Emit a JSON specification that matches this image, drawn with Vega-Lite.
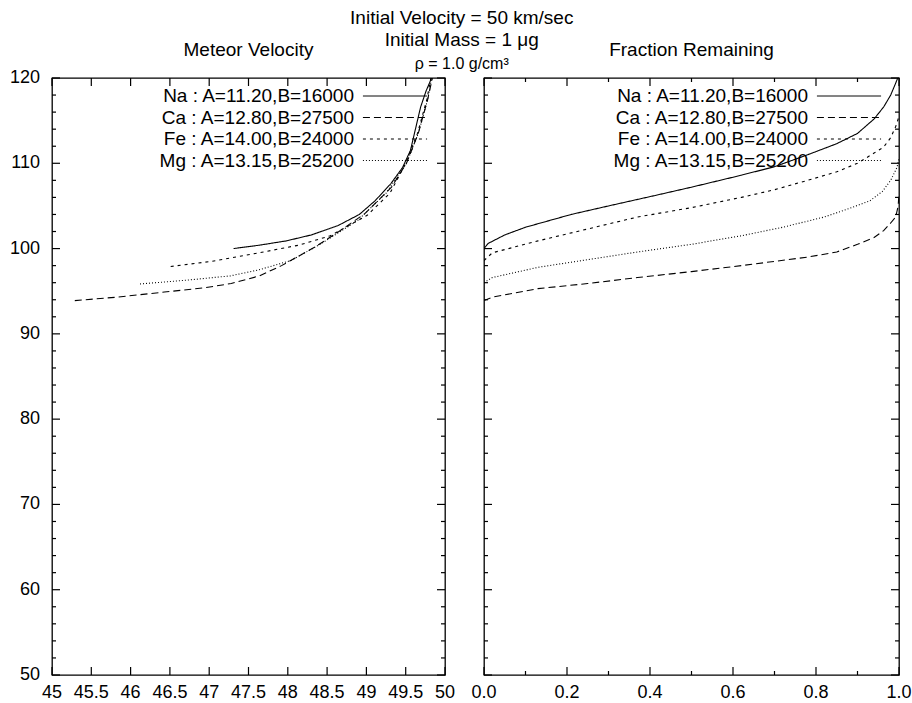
{
  "$schema": "https://vega.github.io/schema/vega-lite/v6.json",
  "background": "white",
  "padding": {"left": 9, "top": 9, "right": 5, "bottom": 5},
  "title": {
    "text": ["Initial Velocity = 50 km/sec", "Initial Mass = 1 μg"],
    "subtitle": "ρ = 1.0 g/cm³",
    "anchor": "middle",
    "offset": -32,
    "dx": 1,
    "fontSize": 19,
    "subtitleFontSize": 16,
    "subtitlePadding": 6
  },
  "bounds": "flush",
  "spacing": 39,
  "datasets": {
    "yt": [
      {"v": 50, "k": "major"}, {"v": 52, "k": "minor"}, {"v": 54, "k": "minor"}, {"v": 56, "k": "minor"}, {"v": 58, "k": "minor"},
      {"v": 60, "k": "major"}, {"v": 62, "k": "minor"}, {"v": 64, "k": "minor"}, {"v": 66, "k": "minor"}, {"v": 68, "k": "minor"},
      {"v": 70, "k": "major"}, {"v": 72, "k": "minor"}, {"v": 74, "k": "minor"}, {"v": 76, "k": "minor"}, {"v": 78, "k": "minor"},
      {"v": 80, "k": "major"}, {"v": 82, "k": "minor"}, {"v": 84, "k": "minor"}, {"v": 86, "k": "minor"}, {"v": 88, "k": "minor"},
      {"v": 90, "k": "major"}, {"v": 92, "k": "minor"}, {"v": 94, "k": "minor"}, {"v": 96, "k": "minor"}, {"v": 98, "k": "minor"},
      {"v": 100, "k": "major"}, {"v": 102, "k": "minor"}, {"v": 104, "k": "minor"}, {"v": 106, "k": "minor"}, {"v": 108, "k": "minor"},
      {"v": 110, "k": "major"}, {"v": 112, "k": "minor"}, {"v": 114, "k": "minor"}, {"v": 116, "k": "minor"}, {"v": 118, "k": "minor"},
      {"v": 120, "k": "major"}
    ],
    "yl": [
      {"v": 50, "lab": "50"}, {"v": 60, "lab": "60"}, {"v": 70, "lab": "70"}, {"v": 80, "lab": "80"},
      {"v": 90, "lab": "90"}, {"v": 100, "lab": "100"}, {"v": 110, "lab": "110"}, {"v": 120, "lab": "120"}
    ],
    "vx": [
      {"v": 45, "k": "major", "lab": "45"}, {"v": 45.5, "k": "major", "lab": "45.5"}, {"v": 46, "k": "major", "lab": "46"},
      {"v": 46.5, "k": "major", "lab": "46.5"}, {"v": 47, "k": "major", "lab": "47"}, {"v": 47.5, "k": "major", "lab": "47.5"},
      {"v": 48, "k": "major", "lab": "48"}, {"v": 48.5, "k": "major", "lab": "48.5"}, {"v": 49, "k": "major", "lab": "49"},
      {"v": 49.5, "k": "major", "lab": "49.5"}, {"v": 50, "k": "major", "lab": "50"}
    ],
    "fx": [
      {"v": 0, "k": "major"}, {"v": 0.1, "k": "minor"}, {"v": 0.2, "k": "major"}, {"v": 0.3, "k": "minor"}, {"v": 0.4, "k": "major"},
      {"v": 0.5, "k": "minor"}, {"v": 0.6, "k": "major"}, {"v": 0.7, "k": "minor"}, {"v": 0.8, "k": "major"}, {"v": 0.9, "k": "minor"},
      {"v": 1.0, "k": "major"}
    ],
    "fxl": [
      {"v": 0, "lab": "0.0"}, {"v": 0.2, "lab": "0.2"}, {"v": 0.4, "lab": "0.4"},
      {"v": 0.6, "lab": "0.6"}, {"v": 0.8, "lab": "0.8"}, {"v": 1.0, "lab": "1.0"}
    ],
    "vel": [
      {"el": "Na : A=11.20,B=16000", "x": 47.31, "y": 100.0},
      {"el": "Na : A=11.20,B=16000", "x": 47.64, "y": 100.4},
      {"el": "Na : A=11.20,B=16000", "x": 47.98, "y": 100.9},
      {"el": "Na : A=11.20,B=16000", "x": 48.3, "y": 101.6},
      {"el": "Na : A=11.20,B=16000", "x": 48.64, "y": 102.7},
      {"el": "Na : A=11.20,B=16000", "x": 48.91, "y": 104.0},
      {"el": "Na : A=11.20,B=16000", "x": 49.11, "y": 105.6},
      {"el": "Na : A=11.20,B=16000", "x": 49.31, "y": 107.6},
      {"el": "Na : A=11.20,B=16000", "x": 49.46, "y": 109.5},
      {"el": "Na : A=11.20,B=16000", "x": 49.56, "y": 111.5},
      {"el": "Na : A=11.20,B=16000", "x": 49.69, "y": 116.6},
      {"el": "Na : A=11.20,B=16000", "x": 49.76, "y": 118.5},
      {"el": "Na : A=11.20,B=16000", "x": 49.83, "y": 120.0},
      {"el": "Ca : A=12.80,B=27500", "x": 45.29, "y": 93.9},
      {"el": "Ca : A=12.80,B=27500", "x": 45.82, "y": 94.3},
      {"el": "Ca : A=12.80,B=27500", "x": 46.43, "y": 94.9},
      {"el": "Ca : A=12.80,B=27500", "x": 46.94, "y": 95.4},
      {"el": "Ca : A=12.80,B=27500", "x": 47.28, "y": 95.9},
      {"el": "Ca : A=12.80,B=27500", "x": 47.64, "y": 96.8},
      {"el": "Ca : A=12.80,B=27500", "x": 47.92, "y": 98.0},
      {"el": "Ca : A=12.80,B=27500", "x": 48.34, "y": 100.15},
      {"el": "Ca : A=12.80,B=27500", "x": 48.65, "y": 102.0},
      {"el": "Ca : A=12.80,B=27500", "x": 48.98, "y": 104.1},
      {"el": "Ca : A=12.80,B=27500", "x": 49.32, "y": 107.2},
      {"el": "Ca : A=12.80,B=27500", "x": 49.51, "y": 110.0},
      {"el": "Ca : A=12.80,B=27500", "x": 49.66, "y": 113.5},
      {"el": "Ca : A=12.80,B=27500", "x": 49.78, "y": 117.5},
      {"el": "Ca : A=12.80,B=27500", "x": 49.84, "y": 120.0},
      {"el": "Fe : A=14.00,B=24000", "x": 46.51, "y": 97.9},
      {"el": "Fe : A=14.00,B=24000", "x": 47.03, "y": 98.5},
      {"el": "Fe : A=14.00,B=24000", "x": 47.69, "y": 99.6},
      {"el": "Fe : A=14.00,B=24000", "x": 48.14, "y": 100.4},
      {"el": "Fe : A=14.00,B=24000", "x": 48.54, "y": 101.5},
      {"el": "Fe : A=14.00,B=24000", "x": 49.01, "y": 103.9},
      {"el": "Fe : A=14.00,B=24000", "x": 49.3, "y": 106.5},
      {"el": "Fe : A=14.00,B=24000", "x": 49.5, "y": 110.0},
      {"el": "Fe : A=14.00,B=24000", "x": 49.65, "y": 113.5},
      {"el": "Fe : A=14.00,B=24000", "x": 49.77, "y": 117.5},
      {"el": "Fe : A=14.00,B=24000", "x": 49.82, "y": 120.0},
      {"el": "Mg : A=13.15,B=25200", "x": 46.12, "y": 95.85},
      {"el": "Mg : A=13.15,B=25200", "x": 46.72, "y": 96.3},
      {"el": "Mg : A=13.15,B=25200", "x": 47.27, "y": 96.8},
      {"el": "Mg : A=13.15,B=25200", "x": 47.63, "y": 97.5},
      {"el": "Mg : A=13.15,B=25200", "x": 48.04, "y": 98.6},
      {"el": "Mg : A=13.15,B=25200", "x": 48.42, "y": 100.55},
      {"el": "Mg : A=13.15,B=25200", "x": 48.89, "y": 103.3},
      {"el": "Mg : A=13.15,B=25200", "x": 49.25, "y": 106.5},
      {"el": "Mg : A=13.15,B=25200", "x": 49.51, "y": 110.0},
      {"el": "Mg : A=13.15,B=25200", "x": 49.66, "y": 113.5},
      {"el": "Mg : A=13.15,B=25200", "x": 49.78, "y": 117.5},
      {"el": "Mg : A=13.15,B=25200", "x": 49.83, "y": 120.0}
    ],
    "frac": [
      {"el": "Na : A=11.20,B=16000", "x": 0.0, "y": 100.0},
      {"el": "Na : A=11.20,B=16000", "x": 0.01, "y": 100.6},
      {"el": "Na : A=11.20,B=16000", "x": 0.05, "y": 101.6},
      {"el": "Na : A=11.20,B=16000", "x": 0.1, "y": 102.5},
      {"el": "Na : A=11.20,B=16000", "x": 0.21, "y": 104.0},
      {"el": "Na : A=11.20,B=16000", "x": 0.3, "y": 105.0},
      {"el": "Na : A=11.20,B=16000", "x": 0.41, "y": 106.2},
      {"el": "Na : A=11.20,B=16000", "x": 0.5, "y": 107.2},
      {"el": "Na : A=11.20,B=16000", "x": 0.62, "y": 108.6},
      {"el": "Na : A=11.20,B=16000", "x": 0.7, "y": 109.6},
      {"el": "Na : A=11.20,B=16000", "x": 0.78, "y": 111.0},
      {"el": "Na : A=11.20,B=16000", "x": 0.85, "y": 112.3},
      {"el": "Na : A=11.20,B=16000", "x": 0.9, "y": 113.5},
      {"el": "Na : A=11.20,B=16000", "x": 0.94, "y": 115.2},
      {"el": "Na : A=11.20,B=16000", "x": 0.963, "y": 116.6},
      {"el": "Na : A=11.20,B=16000", "x": 0.98, "y": 118.0},
      {"el": "Na : A=11.20,B=16000", "x": 0.992, "y": 119.4},
      {"el": "Na : A=11.20,B=16000", "x": 0.997, "y": 120.0},
      {"el": "Ca : A=12.80,B=27500", "x": 0.0, "y": 93.9},
      {"el": "Ca : A=12.80,B=27500", "x": 0.02, "y": 94.3},
      {"el": "Ca : A=12.80,B=27500", "x": 0.13, "y": 95.3},
      {"el": "Ca : A=12.80,B=27500", "x": 0.25, "y": 95.9},
      {"el": "Ca : A=12.80,B=27500", "x": 0.37, "y": 96.6},
      {"el": "Ca : A=12.80,B=27500", "x": 0.5, "y": 97.3},
      {"el": "Ca : A=12.80,B=27500", "x": 0.62, "y": 98.0},
      {"el": "Ca : A=12.80,B=27500", "x": 0.7, "y": 98.5},
      {"el": "Ca : A=12.80,B=27500", "x": 0.78, "y": 99.0},
      {"el": "Ca : A=12.80,B=27500", "x": 0.85, "y": 99.6},
      {"el": "Ca : A=12.80,B=27500", "x": 0.9, "y": 100.5},
      {"el": "Ca : A=12.80,B=27500", "x": 0.94, "y": 101.3},
      {"el": "Ca : A=12.80,B=27500", "x": 0.963, "y": 102.1},
      {"el": "Ca : A=12.80,B=27500", "x": 0.98, "y": 103.0},
      {"el": "Ca : A=12.80,B=27500", "x": 0.992, "y": 103.7},
      {"el": "Ca : A=12.80,B=27500", "x": 0.998, "y": 105.0},
      {"el": "Ca : A=12.80,B=27500", "x": 1.0, "y": 106.5},
      {"el": "Fe : A=14.00,B=24000", "x": 0.0, "y": 98.6},
      {"el": "Fe : A=14.00,B=24000", "x": 0.02, "y": 99.5},
      {"el": "Fe : A=14.00,B=24000", "x": 0.13, "y": 100.9},
      {"el": "Fe : A=14.00,B=24000", "x": 0.25, "y": 102.3},
      {"el": "Fe : A=14.00,B=24000", "x": 0.37, "y": 103.7},
      {"el": "Fe : A=14.00,B=24000", "x": 0.5, "y": 104.8},
      {"el": "Fe : A=14.00,B=24000", "x": 0.62, "y": 106.0},
      {"el": "Fe : A=14.00,B=24000", "x": 0.7, "y": 106.9},
      {"el": "Fe : A=14.00,B=24000", "x": 0.78, "y": 108.0},
      {"el": "Fe : A=14.00,B=24000", "x": 0.85, "y": 109.0},
      {"el": "Fe : A=14.00,B=24000", "x": 0.9, "y": 110.0},
      {"el": "Fe : A=14.00,B=24000", "x": 0.94, "y": 111.2},
      {"el": "Fe : A=14.00,B=24000", "x": 0.963, "y": 111.9},
      {"el": "Fe : A=14.00,B=24000", "x": 0.98, "y": 113.0},
      {"el": "Fe : A=14.00,B=24000", "x": 0.992, "y": 114.3},
      {"el": "Fe : A=14.00,B=24000", "x": 1.0, "y": 115.5},
      {"el": "Mg : A=13.15,B=25200", "x": 0.0, "y": 96.0},
      {"el": "Mg : A=13.15,B=25200", "x": 0.02, "y": 96.6},
      {"el": "Mg : A=13.15,B=25200", "x": 0.13, "y": 97.8},
      {"el": "Mg : A=13.15,B=25200", "x": 0.25, "y": 98.7},
      {"el": "Mg : A=13.15,B=25200", "x": 0.37, "y": 99.6},
      {"el": "Mg : A=13.15,B=25200", "x": 0.5, "y": 100.5},
      {"el": "Mg : A=13.15,B=25200", "x": 0.62, "y": 101.5},
      {"el": "Mg : A=13.15,B=25200", "x": 0.72, "y": 102.5},
      {"el": "Mg : A=13.15,B=25200", "x": 0.82, "y": 103.7},
      {"el": "Mg : A=13.15,B=25200", "x": 0.88, "y": 104.7},
      {"el": "Mg : A=13.15,B=25200", "x": 0.93, "y": 105.6},
      {"el": "Mg : A=13.15,B=25200", "x": 0.96, "y": 106.7},
      {"el": "Mg : A=13.15,B=25200", "x": 0.98, "y": 108.0},
      {"el": "Mg : A=13.15,B=25200", "x": 0.995, "y": 109.5},
      {"el": "Mg : A=13.15,B=25200", "x": 1.0, "y": 110.5}
    ]
  },
  "hconcat": [
    {
      "width": 393,
      "height": 597,
      "title": {"text": "Meteor Velocity", "frame": "group", "offset": 9},
      "encoding": {
        "x": {"type": "quantitative", "scale": {"domain": [45, 50], "nice": false, "zero": false}, "axis": null},
        "y": {"type": "quantitative", "scale": {"domain": [50, 120], "nice": false, "zero": false}, "axis": null}
      },
      "layer": [
        {
          "data": {"name": "vel"},
          "mark": {"type": "line", "color": "black", "strokeWidth": 1.1, "clip": true},
          "encoding": {
            "x": {"field": "x", "type": "quantitative"},
            "y": {"field": "y", "type": "quantitative"},
            "strokeDash": {"field": "el", "type": "nominal",
              "scale": {"domain": ["Na : A=11.20,B=16000", "Ca : A=12.80,B=27500", "Fe : A=14.00,B=24000", "Mg : A=13.15,B=25200"],
                "range": [[1, 0], [7, 4], [3, 4], [1, 2]]},
              "legend": {"legendX": 333, "legendY": 8}}
          }
        },
        {
          "data": {"name": "vx"},
          "mark": {"type": "tick", "orient": "vertical", "size": 8, "yOffset": -4, "thickness": 1.2, "color": "black", "opacity": 1},
          "encoding": {"x": {"field": "v", "type": "quantitative"}, "y": {"datum": 50, "type": "quantitative"}}
        },
        {
          "data": {"name": "vx"},
          "mark": {"type": "tick", "orient": "vertical", "size": 8, "yOffset": 4, "thickness": 1.2, "color": "black", "opacity": 1},
          "encoding": {"x": {"field": "v", "type": "quantitative"}, "y": {"datum": 120, "type": "quantitative"}}
        },
        {
          "data": {"name": "yt"},
          "transform": [{"filter": {"field": "k", "equal": "major"}}],
          "mark": {"type": "tick", "orient": "horizontal", "size": 8, "xOffset": 4, "thickness": 1.2, "color": "black", "opacity": 1},
          "encoding": {"y": {"field": "v", "type": "quantitative"}, "x": {"datum": 45, "type": "quantitative"}}
        },
        {
          "data": {"name": "yt"},
          "transform": [{"filter": {"field": "k", "equal": "minor"}}],
          "mark": {"type": "tick", "orient": "horizontal", "size": 4, "xOffset": 2, "thickness": 1.2, "color": "black", "opacity": 1},
          "encoding": {"y": {"field": "v", "type": "quantitative"}, "x": {"datum": 45, "type": "quantitative"}}
        },
        {
          "data": {"name": "yt"},
          "transform": [{"filter": {"field": "k", "equal": "major"}}],
          "mark": {"type": "tick", "orient": "horizontal", "size": 8, "xOffset": -4, "thickness": 1.2, "color": "black", "opacity": 1},
          "encoding": {"y": {"field": "v", "type": "quantitative"}, "x": {"datum": 50, "type": "quantitative"}}
        },
        {
          "data": {"name": "yt"},
          "transform": [{"filter": {"field": "k", "equal": "minor"}}],
          "mark": {"type": "tick", "orient": "horizontal", "size": 4, "xOffset": -2, "thickness": 1.2, "color": "black", "opacity": 1},
          "encoding": {"y": {"field": "v", "type": "quantitative"}, "x": {"datum": 50, "type": "quantitative"}}
        },
        {
          "data": {"name": "yl"},
          "mark": {"type": "text", "align": "right", "baseline": "middle", "dx": -12, "font": "Liberation Sans", "fontSize": 18, "color": "black"},
          "encoding": {
            "y": {"field": "v", "type": "quantitative"},
            "x": {"datum": 45, "type": "quantitative"},
            "text": {"field": "lab", "type": "nominal"}
          }
        },
        {
          "data": {"name": "vx"},
          "mark": {"type": "text", "align": "center", "baseline": "top", "dy": 9, "font": "Liberation Sans", "fontSize": 18, "color": "black"},
          "encoding": {
            "x": {"field": "v", "type": "quantitative"},
            "y": {"datum": 50, "type": "quantitative"},
            "text": {"field": "lab", "type": "nominal"}
          }
        }
      ]
    },
    {
      "width": 415,
      "height": 597,
      "title": {"text": "Fraction Remaining", "frame": "group", "offset": 17},
      "encoding": {
        "x": {"type": "quantitative", "scale": {"domain": [0, 1], "nice": false, "zero": false}, "axis": null},
        "y": {"type": "quantitative", "scale": {"domain": [50, 120], "nice": false, "zero": false}, "axis": null}
      },
      "layer": [
        {
          "data": {"name": "frac"},
          "mark": {"type": "line", "color": "black", "strokeWidth": 1.1, "clip": true},
          "encoding": {
            "x": {"field": "x", "type": "quantitative"},
            "y": {"field": "y", "type": "quantitative"},
            "strokeDash": {"field": "el", "type": "nominal",
              "scale": {"domain": ["Na : A=11.20,B=16000", "Ca : A=12.80,B=27500", "Fe : A=14.00,B=24000", "Mg : A=13.15,B=25200"],
                "range": [[1, 0], [7, 4], [3, 4], [1, 2]]},
              "legend": {"legendX": 355, "legendY": 8}}
          }
        },
        {
          "data": {"name": "fx"},
          "transform": [{"filter": {"field": "k", "equal": "major"}}],
          "mark": {"type": "tick", "orient": "vertical", "size": 8, "yOffset": -4, "thickness": 1.2, "color": "black", "opacity": 1},
          "encoding": {"x": {"field": "v", "type": "quantitative"}, "y": {"datum": 50, "type": "quantitative"}}
        },
        {
          "data": {"name": "fx"},
          "transform": [{"filter": {"field": "k", "equal": "minor"}}],
          "mark": {"type": "tick", "orient": "vertical", "size": 4, "yOffset": -2, "thickness": 1.2, "color": "black", "opacity": 1},
          "encoding": {"x": {"field": "v", "type": "quantitative"}, "y": {"datum": 50, "type": "quantitative"}}
        },
        {
          "data": {"name": "fx"},
          "transform": [{"filter": {"field": "k", "equal": "major"}}],
          "mark": {"type": "tick", "orient": "vertical", "size": 8, "yOffset": 4, "thickness": 1.2, "color": "black", "opacity": 1},
          "encoding": {"x": {"field": "v", "type": "quantitative"}, "y": {"datum": 120, "type": "quantitative"}}
        },
        {
          "data": {"name": "fx"},
          "transform": [{"filter": {"field": "k", "equal": "minor"}}],
          "mark": {"type": "tick", "orient": "vertical", "size": 4, "yOffset": 2, "thickness": 1.2, "color": "black", "opacity": 1},
          "encoding": {"x": {"field": "v", "type": "quantitative"}, "y": {"datum": 120, "type": "quantitative"}}
        },
        {
          "data": {"name": "yt"},
          "transform": [{"filter": {"field": "k", "equal": "major"}}],
          "mark": {"type": "tick", "orient": "horizontal", "size": 8, "xOffset": 4, "thickness": 1.2, "color": "black", "opacity": 1},
          "encoding": {"y": {"field": "v", "type": "quantitative"}, "x": {"datum": 0, "type": "quantitative"}}
        },
        {
          "data": {"name": "yt"},
          "transform": [{"filter": {"field": "k", "equal": "minor"}}],
          "mark": {"type": "tick", "orient": "horizontal", "size": 4, "xOffset": 2, "thickness": 1.2, "color": "black", "opacity": 1},
          "encoding": {"y": {"field": "v", "type": "quantitative"}, "x": {"datum": 0, "type": "quantitative"}}
        },
        {
          "data": {"name": "yt"},
          "transform": [{"filter": {"field": "k", "equal": "major"}}],
          "mark": {"type": "tick", "orient": "horizontal", "size": 8, "xOffset": -4, "thickness": 1.2, "color": "black", "opacity": 1},
          "encoding": {"y": {"field": "v", "type": "quantitative"}, "x": {"datum": 1, "type": "quantitative"}}
        },
        {
          "data": {"name": "yt"},
          "transform": [{"filter": {"field": "k", "equal": "minor"}}],
          "mark": {"type": "tick", "orient": "horizontal", "size": 4, "xOffset": -2, "thickness": 1.2, "color": "black", "opacity": 1},
          "encoding": {"y": {"field": "v", "type": "quantitative"}, "x": {"datum": 1, "type": "quantitative"}}
        },
        {
          "data": {"name": "fxl"},
          "mark": {"type": "text", "align": "center", "baseline": "top", "dy": 9, "font": "Liberation Sans", "fontSize": 18, "color": "black"},
          "encoding": {
            "x": {"field": "v", "type": "quantitative"},
            "y": {"datum": 50, "type": "quantitative"},
            "text": {"field": "lab", "type": "nominal"}
          }
        }
      ]
    }
  ],
  "resolve": {"scale": {"strokeDash": "independent"}, "legend": {"strokeDash": "independent"}},
  "config": {
    "font": "Liberation Sans",
    "view": {"stroke": "black", "strokeWidth": 1.3},
    "title": {"font": "Liberation Sans", "fontSize": 19, "fontWeight": "normal", "color": "black", "subtitleFont": "Liberation Sans", "subtitleColor": "black", "lineHeight": 22},
    "legend": {"orient": "none", "title": null, "symbolType": "M-3.5,0H3.5", "symbolSize": 336, "symbolStrokeColor": "black", "symbolStrokeWidth": 1, "labelFont": "Liberation Sans", "labelFontSize": 19, "labelColor": "black", "labelAlign": "right", "labelOffset": -51, "rowPadding": 1.5, "padding": 0, "labelLimit": 400}
  }
}
